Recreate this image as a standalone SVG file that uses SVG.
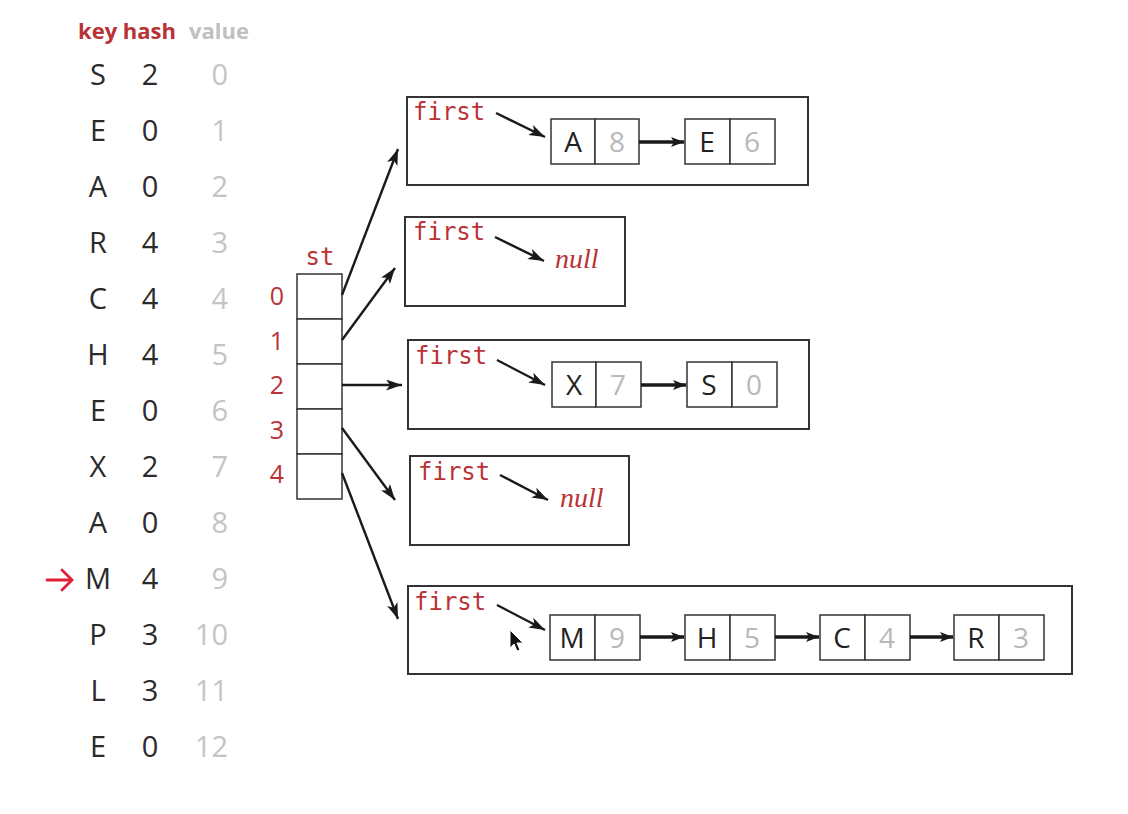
<svg xmlns="http://www.w3.org/2000/svg" width="1128" height="814" viewBox="0 0 1128 814">
<style>
.tk{font-family:"Open Sans","DejaVu Sans",sans-serif;font-size:29px;fill:#2a2a2a;text-anchor:middle}
.tv{font-family:"Open Sans","DejaVu Sans",sans-serif;font-size:29px;fill:#c4c4c4;text-anchor:end}
.hd{font-family:"Open Sans","DejaVu Sans",sans-serif;font-size:22px;font-weight:bold}
.idx{font-family:"Open Sans","DejaVu Sans",sans-serif;font-size:25px;fill:#b83236;text-anchor:middle}
.mono{font-family:"DejaVu Sans Mono","Liberation Mono",monospace;font-size:24px;fill:#b83236}
.null{font-family:"Liberation Serif",serif;font-style:italic;font-size:28px;fill:#b83236}
.nk{font-family:"Open Sans","DejaVu Sans",sans-serif;font-size:28px;fill:#222;text-anchor:middle}
.nv{font-family:"Open Sans","DejaVu Sans",sans-serif;font-size:28px;fill:#b8b8b8;text-anchor:middle}
.box{fill:#fff;stroke:#333;stroke-width:2}
.cell{fill:#fff;stroke:#333;stroke-width:1.5}
.arr{stroke:#1a1a1a;stroke-width:2.4;fill:none;marker-end:url(#ah)}
.link{stroke:#1a1a1a;stroke-width:3.5;fill:none;marker-end:url(#ah2)}
</style>
<defs>
<marker id="ah" refX="16" refY="5.5" markerWidth="16" markerHeight="11" markerUnits="userSpaceOnUse" orient="auto">
<path d="M0,0 L16,5.5 L0,11 L4,5.5 Z" fill="#1a1a1a"/>
</marker>
<marker id="ah2" refX="13" refY="5" markerWidth="13" markerHeight="10" markerUnits="userSpaceOnUse" orient="auto">
<path d="M0,0 L13,5 L0,10 L3,5 Z" fill="#1a1a1a"/>
</marker>
</defs>

<g id="table">
<text class="hd" x="78" y="39" fill="#b83236">key hash</text>
<text class="hd" x="189" y="39" fill="#c0c0c0">value</text>
<g id="row0"><text class="tk" x="98" y="85">S</text><text class="tk" x="150" y="85">2</text><text class="tv" x="228" y="85">0</text></g>
<g id="row1"><text class="tk" x="98" y="141">E</text><text class="tk" x="150" y="141">0</text><text class="tv" x="228" y="141">1</text></g>
<g id="row2"><text class="tk" x="98" y="197">A</text><text class="tk" x="150" y="197">0</text><text class="tv" x="228" y="197">2</text></g>
<g id="row3"><text class="tk" x="98" y="253">R</text><text class="tk" x="150" y="253">4</text><text class="tv" x="228" y="253">3</text></g>
<g id="row4"><text class="tk" x="98" y="309">C</text><text class="tk" x="150" y="309">4</text><text class="tv" x="228" y="309">4</text></g>
<g id="row5"><text class="tk" x="98" y="365">H</text><text class="tk" x="150" y="365">4</text><text class="tv" x="228" y="365">5</text></g>
<g id="row6"><text class="tk" x="98" y="421">E</text><text class="tk" x="150" y="421">0</text><text class="tv" x="228" y="421">6</text></g>
<g id="row7"><text class="tk" x="98" y="477">X</text><text class="tk" x="150" y="477">2</text><text class="tv" x="228" y="477">7</text></g>
<g id="row8"><text class="tk" x="98" y="533">A</text><text class="tk" x="150" y="533">0</text><text class="tv" x="228" y="533">8</text></g>
<g id="row9"><text class="tk" x="98" y="589">M</text><text class="tk" x="150" y="589">4</text><text class="tv" x="228" y="589">9</text></g>
<g id="row10"><text class="tk" x="98" y="645">P</text><text class="tk" x="150" y="645">3</text><text class="tv" x="228" y="645">10</text></g>
<g id="row11"><text class="tk" x="98" y="701">L</text><text class="tk" x="150" y="701">3</text><text class="tv" x="228" y="701">11</text></g>
<g id="row12"><text class="tk" x="98" y="757">E</text><text class="tk" x="150" y="757">0</text><text class="tv" x="228" y="757">12</text></g>
<g id="cursorArrow" stroke="#e0203a" stroke-width="2.8" fill="none" stroke-linecap="round">
<line x1="47" y1="580" x2="71" y2="580"/>
<polyline points="62,570 72,580 62,590"/>
</g>
</g>

<g id="st">
<text class="mono" x="320" y="265" text-anchor="middle">st</text>
<rect class="cell" x="297" y="274" width="45" height="45"/>
<rect class="cell" x="297" y="319" width="45" height="45"/>
<rect class="cell" x="297" y="364" width="45" height="45"/>
<rect class="cell" x="297" y="409" width="45" height="45"/>
<rect class="cell" x="297" y="454" width="45" height="45"/>
<text class="idx" x="277" y="305">0</text>
<text class="idx" x="277" y="350">1</text>
<text class="idx" x="277" y="394">2</text>
<text class="idx" x="277" y="439">3</text>
<text class="idx" x="277" y="483">4</text>
</g>

<g id="list0">
<rect class="box" x="407" y="97" width="401" height="88"/>
<text class="mono" x="413" y="120">first</text>
<rect class="cell" x="551" y="119" width="44" height="45"/><rect class="cell" x="595" y="119" width="44" height="45"/>
<text class="nk" x="573" y="152">A</text><text class="nv" x="617" y="152">8</text>
<rect class="cell" x="685" y="119" width="45" height="45"/><rect class="cell" x="730" y="119" width="45" height="45"/>
<text class="nk" x="707" y="152">E</text><text class="nv" x="752" y="152">6</text>
</g>

<g id="list1">
<rect class="box" x="405" y="217" width="220" height="89"/>
<text class="mono" x="413" y="240">first</text>
<text class="null" x="555" y="268">null</text>
</g>

<g id="list2">
<rect class="box" x="408" y="340" width="401" height="89"/>
<text class="mono" x="415" y="364">first</text>
<rect class="cell" x="552" y="362" width="44" height="45"/><rect class="cell" x="596" y="362" width="45" height="45"/>
<text class="nk" x="574" y="395">X</text><text class="nv" x="618" y="395">7</text>
<rect class="cell" x="687" y="362" width="45" height="45"/><rect class="cell" x="732" y="362" width="45" height="45"/>
<text class="nk" x="709" y="395">S</text><text class="nv" x="754" y="395">0</text>
</g>

<g id="list3">
<rect class="box" x="410" y="456" width="219" height="89"/>
<text class="mono" x="418" y="480">first</text>
<text class="null" x="560" y="507">null</text>
</g>

<g id="list4">
<rect class="box" x="408" y="586" width="664" height="88"/>
<text class="mono" x="414" y="610">first</text>
<rect class="cell" x="550" y="615" width="45" height="45"/><rect class="cell" x="595" y="615" width="45" height="45"/>
<text class="nk" x="572" y="648">M</text><text class="nv" x="617" y="648">9</text>
<rect class="cell" x="685" y="615" width="45" height="45"/><rect class="cell" x="730" y="615" width="45" height="45"/>
<text class="nk" x="707" y="648">H</text><text class="nv" x="752" y="648">5</text>
<rect class="cell" x="820" y="615" width="45" height="45"/><rect class="cell" x="865" y="615" width="45" height="45"/>
<text class="nk" x="842" y="648">C</text><text class="nv" x="887" y="648">4</text>
<rect class="cell" x="954" y="615" width="45" height="45"/><rect class="cell" x="999" y="615" width="45" height="45"/>
<text class="nk" x="976" y="648">R</text><text class="nv" x="1021" y="648">3</text>
</g>

<g id="connectors">
<line class="arr" x1="342" y1="295" x2="398" y2="149"/>
<line class="arr" x1="342" y1="340" x2="395" y2="268"/>
<line class="arr" x1="342" y1="385" x2="402" y2="385"/>
<line class="arr" x1="342" y1="428" x2="395" y2="500"/>
<line class="arr" x1="342" y1="473" x2="398" y2="619"/>
<line class="arr" x1="496" y1="113" x2="545" y2="137"/>
<line class="arr" x1="495" y1="237" x2="544" y2="261"/>
<line class="arr" x1="497" y1="360" x2="545" y2="385"/>
<line class="arr" x1="500" y1="475" x2="548" y2="500"/>
<line class="arr" x1="497" y1="605" x2="545" y2="630"/>
<line class="link" x1="639" y1="142" x2="684" y2="142"/>
<line class="link" x1="641" y1="385" x2="686" y2="385"/>
<line class="link" x1="640" y1="637" x2="684" y2="637"/>
<line class="link" x1="775" y1="637" x2="819" y2="637"/>
<line class="link" x1="910" y1="637" x2="953" y2="637"/>
</g>

<path id="mousePointer" d="M510,630 L510,648 L514,644 L517,651 L520,650 L517,643 L523,643 Z" fill="#111" stroke="#fff" stroke-width="1"/>
</svg>
